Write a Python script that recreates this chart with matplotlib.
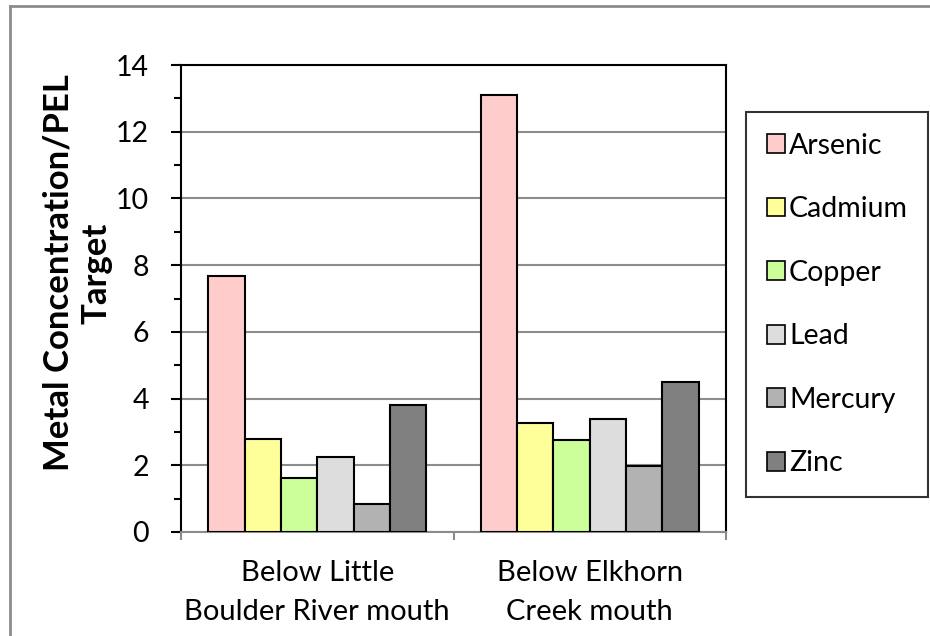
import numpy as np
import matplotlib
matplotlib.use('Agg')
import matplotlib.pyplot as plt
from matplotlib.lines import Line2D

plt.rcParams['font.family'] = ['Lato', 'DejaVu Sans']

sites = ['Below Little\nBoulder River mouth', 'Below Elkhorn\nCreek mouth']
metals = ['Arsenic', 'Cadmium', 'Copper', 'Lead', 'Mercury', 'Zinc']
arsenic = [7.68, 13.1]
cadmium = [2.79, 3.28]
copper = [1.63, 2.77]
lead = [2.25, 3.39]
mercury = [0.85, 1.97]
zinc = [3.81, 4.51]
colors = ['#FFCCCC', '#FFFF99', '#CCFF99', '#DDDDDD', '#B2B2B2', '#808080']

series = [arsenic, cadmium, copper, lead, mercury, zinc]

fig = plt.figure(figsize=(9.3, 6.36), dpi=100)
ax = fig.add_axes([181/930, 1-532/636, 545/930, 467/636])

centers = np.arange(len(sites)) + 0.5
w = 0.8 / len(metals)
for i, vals in enumerate(series):
    x = centers - 0.4 + w*(i + 0.5)
    ax.bar(x, vals, width=w, color=colors[i], edgecolor='black',
           linewidth=1.5, label=metals[i], zorder=3)

ax.set_xlim(0, len(sites))
ax.set_ylim(0, 14)
ax.set_yticks(np.arange(0, 15, 2))
ax.set_yticks(np.arange(1, 14, 2), minor=True)
ax.yaxis.grid(True, color='#8c8c8c', linewidth=1.5, zorder=0)
ax.tick_params(axis='y', which='major', length=7, width=1.5, direction='out',
               labelsize=20.5, pad=16, color='black')
ax.tick_params(axis='y', which='minor', length=5, width=1.5, direction='out', color='black')

# category separators as major ticks, names as minor ticks
ax.set_xticks([0, 1, 2])
ax.set_xticklabels(['', '', ''])
ax.set_xticks(centers, minor=True)
ax.set_xticklabels(sites, minor=True, fontsize=21, linespacing=1.62)
ax.tick_params(axis='x', which='major', length=6, width=1.5, color='#8c8c8c', direction='out')
ax.tick_params(axis='x', which='minor', length=0, pad=20)

for s in ['left', 'top', 'right']:
    ax.spines[s].set_color('black')
    ax.spines[s].set_linewidth(1.5)
ax.spines['bottom'].set_color('#8c8c8c')
ax.spines['bottom'].set_linewidth(1.5)

ax.set_ylabel('Metal Concentration/PEL\nTarget', fontsize=25, fontweight='bold',
              linespacing=1.25)
ax.yaxis.set_label_coords(-0.125, 0.555)

leg = ax.legend(loc='upper left', bbox_to_anchor=(746/930, 1-112/636),
                bbox_transform=fig.transFigure, borderaxespad=0, fontsize=20.5,
                frameon=True, fancybox=False, edgecolor='black',
                handlelength=0.64, handleheight=0.64, handletextpad=0.15,
                labelspacing=1.32, borderpad=0.72)
leg.get_frame().set_linewidth(1.5)
for p in leg.get_patches():
    p.set_linewidth(1.2)

# outer chart border
fig.add_artist(Line2D([9.5/930, 9.5/930], [0, 1-6/636], color='#8c8c8c', lw=2,
                      transform=fig.transFigure))
fig.add_artist(Line2D([9.5/930, 1], [1-6/636, 1-6/636], color='#8c8c8c', lw=2,
                      transform=fig.transFigure))

fig.savefig('out.png', dpi=100)
